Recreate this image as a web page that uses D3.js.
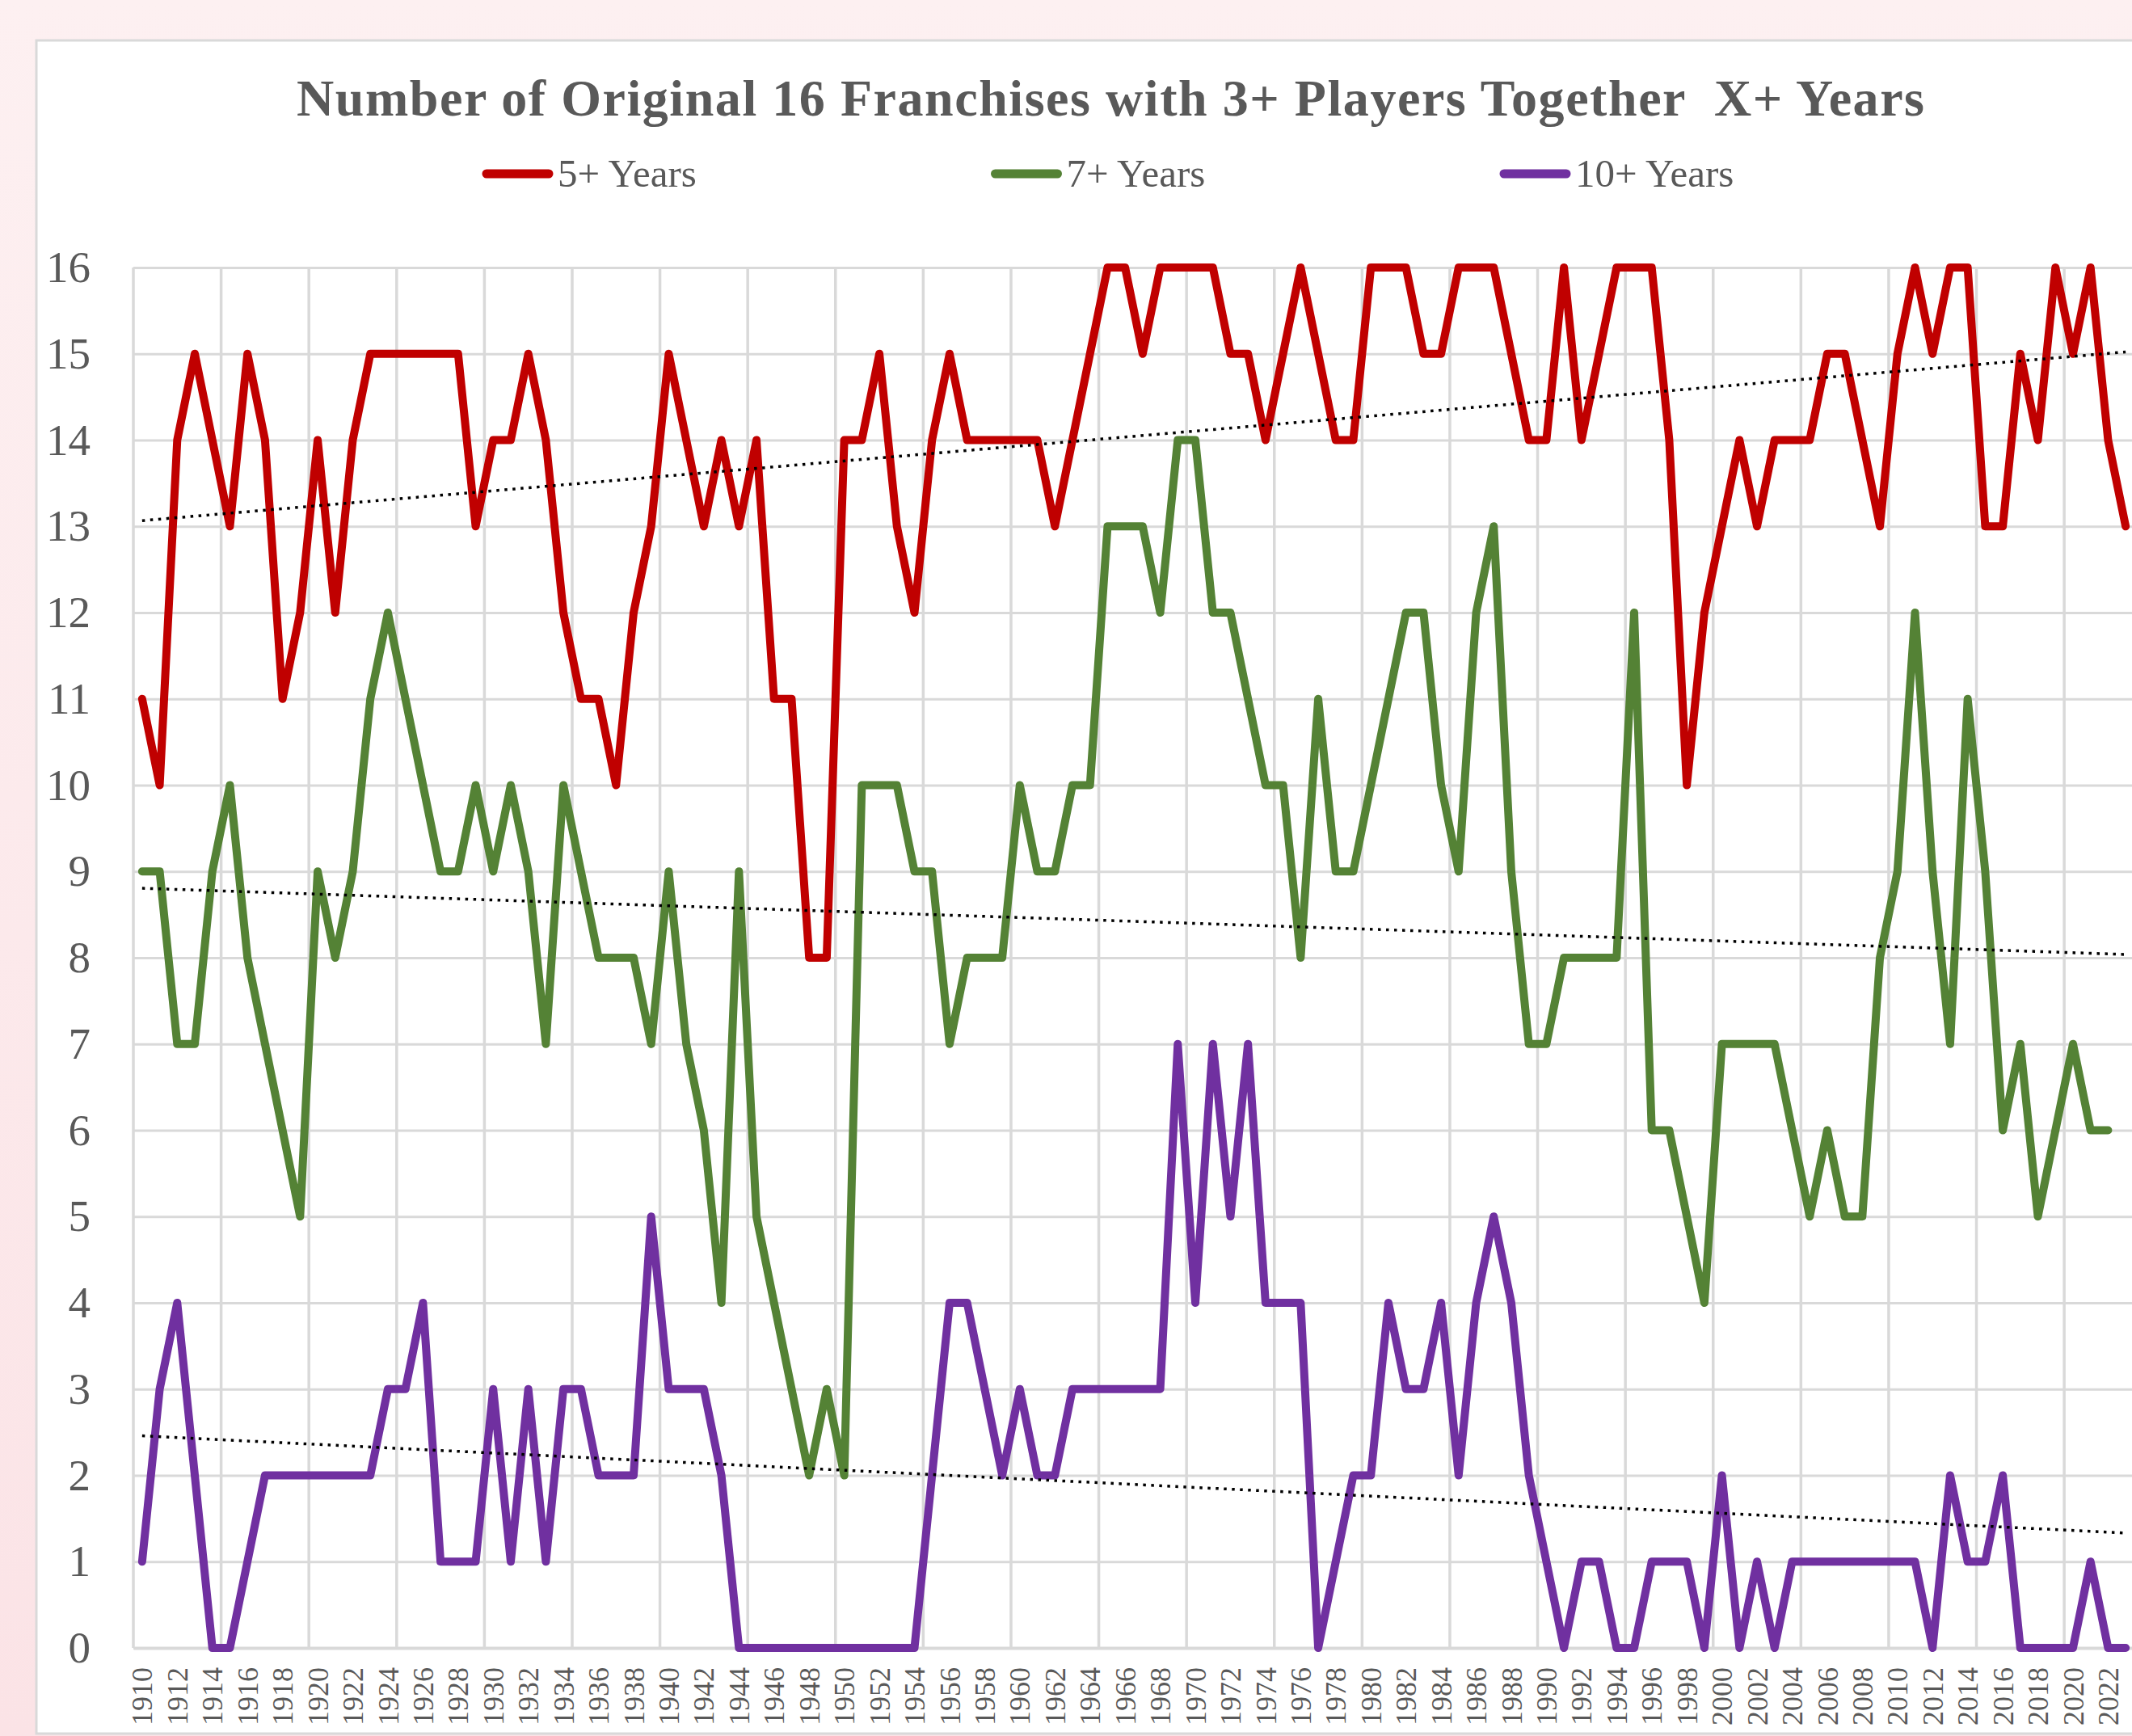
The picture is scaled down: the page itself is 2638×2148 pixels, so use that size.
<!DOCTYPE html>
<html><head><meta charset="utf-8">
<script src="https://cdn.jsdelivr.net/npm/d3@7"></script>
<style>html,body{margin:0;padding:0;background:#fcedef;} svg{display:block}</style>
</head><body>
<svg id="c" width="2638" height="2148"></svg>
<script>
const years = [1910,1911,1912,1913,1914,1915,1916,1917,1918,1919,
1920,1921,1922,1923,1924,1925,1926,1927,1928,1929,
1930,1931,1932,1933,1934,1935,1936,1937,1938,1939,
1940,1941,1942,1943,1944,1945,1946,1947,1948,1949,
1950,1951,1952,1953,1954,1955,1956,1957,1958,1959,
1960,1961,1962,1963,1964,1965,1966,1967,1968,1969,
1970,1971,1972,1973,1974,1975,1976,1977,1978,1979,
1980,1981,1982,1983,1984,1985,1986,1987,1988,1989,
1990,1991,1992,1993,1994,1995,1996,1997,1998,1999,
2000,2001,2002,2003,2004,2005,2006,2007,2008,2009,
2010,2011,2012,2013,2014,2015,2016,2017,2018,2019,
2020,2021,2022,2023];

const fivePlus = [11,10,14,15,14,13,15,14,11,12,
14,12,14,15,15,15,15,15,15,13,
14,14,15,14,12,11,11,10,12,13,
15,14,13,14,13,14,11,11,8,8,
14,14,15,13,12,14,15,14,14,14,
14,14,13,14,15,16,16,15,16,16,
16,16,15,15,14,15,16,15,14,14,
16,16,16,15,15,16,16,16,15,14,
14,16,14,15,16,16,16,14,10,12,
13,14,13,14,14,14,15,15,14,13,
15,16,15,16,16,13,13,15,14,16,
15,16,14,13];

const sevenPlus = [9,9,7,7,9,10,8,7,6,5,
9,8,9,11,12,11,10,9,9,10,
9,10,9,7,10,9,8,8,8,7,
9,7,6,4,9,5,4,3,2,3,
2,10,10,10,9,9,7,8,8,8,
10,9,9,10,10,13,13,13,12,14,
14,12,12,11,10,10,8,11,9,9,
10,11,12,12,10,9,12,13,9,7,
7,8,8,8,8,12,6,6,5,4,
7,7,7,7,6,5,6,5,5,8,
9,12,9,7,11,9,6,7,5,6,
7,6,6,null];

const tenPlus = [1,3,4,2,0,0,1,2,2,2,
2,2,2,2,3,3,4,1,1,1,
3,1,3,1,3,3,2,2,2,5,
3,3,3,2,0,0,0,0,0,0,
0,0,0,0,0,2,4,4,3,2,
3,2,2,3,3,3,3,3,3,7,
4,7,5,7,4,4,4,0,1,2,
2,4,3,3,4,2,4,5,4,2,
1,0,1,1,0,0,1,1,1,0,
2,0,1,0,1,1,1,1,1,1,
1,1,0,2,1,1,2,0,0,0,
0,1,0,0];

const seriesNames = ["5+ Years", "7+ Years", "10+ Years"];
const seriesColors = ["#C00000", "#548235", "#7030A0"];
const yTicks = [0,1,2,3,4,5,6,7,8,9,10,11,12,13,14,15,16];
const xTickLabels = years.filter((d, i) => i % 2 === 0);
const titleText = "Number of Original 16 Franchises with 3+ Players Together  X+ Years";

const W = 2638, H = 2148;
const plot = {left: 165, right: 2641, top: 331, bottom: 2039};
const FONT = "'Liberation Serif', 'Times New Roman', serif";
const TEXT = "#595959", GRID = "#d9d9d9";

const svg = d3.select("#c");
const defs = svg.append("defs");
const grad = defs.append("linearGradient").attr("id", "bg").attr("x1", 0).attr("x2", 0).attr("y1", 0).attr("y2", 1);
grad.append("stop").attr("offset", 0).attr("stop-color", "#fdf0f1");
grad.append("stop").attr("offset", 1).attr("stop-color", "#fbe3e6");
svg.append("rect").attr("width", W).attr("height", H).attr("fill", "url(#bg)");
svg.append("rect").attr("x", 45).attr("y", 50).attr("width", 2700).attr("height", 2095)
  .attr("fill", "#ffffff").attr("stroke", GRID).attr("stroke-width", 3);

const x = d3.scaleBand().domain(years).range([plot.left, plot.right]).padding(0);
const bw = x.bandwidth();
const cx = d => x(d) + bw / 2;
const y = d3.scaleLinear().domain([0, 16]).range([plot.bottom, plot.top]);

// horizontal gridlines + y labels
const yAxis = svg.append("g").attr("transform", `translate(${plot.left},0)`)
  .call(d3.axisLeft(y).tickValues(yTicks).tickSize(-(plot.right - plot.left)).tickPadding(53).tickFormat(d3.format("d")));
yAxis.select(".domain").remove();
yAxis.selectAll(".tick line").attr("stroke", GRID).attr("stroke-width", 3);
yAxis.selectAll(".tick text").attr("fill", TEXT).style("font-family", FONT).style("font-size", "55px");

// vertical gridlines every 5 categories at category boundaries
const vIdx = years.map((d, i) => i).filter(i => i % 5 === 0);
svg.append("g").selectAll("line").data(vIdx).join("line")
  .attr("x1", i => x(years[i])).attr("x2", i => x(years[i]))
  .attr("y1", plot.top).attr("y2", plot.bottom)
  .attr("stroke", GRID).attr("stroke-width", 3.5);

// x axis
const xAxis = svg.append("g").attr("transform", `translate(0,${plot.bottom})`)
  .call(d3.axisBottom(x).tickValues(xTickLabels).tickSize(0));
xAxis.select(".domain").attr("stroke", GRID).attr("stroke-width", 4);
xAxis.selectAll(".tick text")
  .attr("transform", "rotate(-90)")
  .attr("x", -24).attr("y", 0).attr("dy", "0.35em")
  .attr("text-anchor", "end")
  .attr("fill", TEXT).style("font-family", FONT).style("font-size", "36px");

// series lines
const series = [fivePlus, sevenPlus, tenPlus];
const line = d3.line().defined(d => d != null).x((d, i) => cx(years[i])).y(d => y(d));
svg.append("g").selectAll("path").data(series).join("path")
  .attr("d", d => line(d))
  .attr("fill", "none")
  .attr("stroke", (d, i) => seriesColors[i])
  .attr("stroke-width", 10)
  .attr("stroke-linejoin", "round")
  .attr("stroke-linecap", "round");

// linear trendlines
function trend(vals) {
  const pts = vals.map((v, i) => [i, v]).filter(p => p[1] != null);
  const mx = d3.mean(pts, p => p[0]), my = d3.mean(pts, p => p[1]);
  const sxy = d3.sum(pts, p => (p[0] - mx) * (p[1] - my));
  const sxx = d3.sum(pts, p => (p[0] - mx) ** 2);
  const b = sxy / sxx, a = my - b * mx;
  const last = years.length - 1;
  return [[0, a], [last, a + b * last]];
}
svg.append("g").selectAll("line").data(series.map(trend)).join("line")
  .attr("x1", d => cx(years[d[0][0]])).attr("y1", d => y(d[0][1]))
  .attr("x2", d => cx(years[d[1][0]])).attr("y2", d => y(d[1][1]))
  .attr("stroke", "#000").attr("stroke-width", 3.5)
  .attr("stroke-dasharray", "3.5 6.5");

// title
svg.append("text").attr("x", 1374).attr("y", 143)
  .attr("text-anchor", "middle")
  .attr("fill", TEXT).style("font-family", FONT).style("font-weight", "bold")
  .style("font-size", "64px").style("white-space", "pre")
  .attr("textLength", 2014).attr("lengthAdjust", "spacing")
  .text(titleText);

// legend
const lg = svg.append("g").selectAll("g").data(seriesNames).join("g")
  .attr("transform", (d, i) => `translate(${600 + i * 629.5},215)`);
lg.append("line").attr("x1", 2).attr("x2", 79).attr("y1", 0).attr("y2", 0)
  .attr("stroke", (d, i) => seriesColors[i]).attr("stroke-width", 11).attr("stroke-linecap", "round");
lg.append("text").attr("x", 90).attr("y", 16)
  .attr("fill", TEXT).style("font-family", FONT).style("font-size", "49px")
  .text(d => d);
</script>
</body></html>
